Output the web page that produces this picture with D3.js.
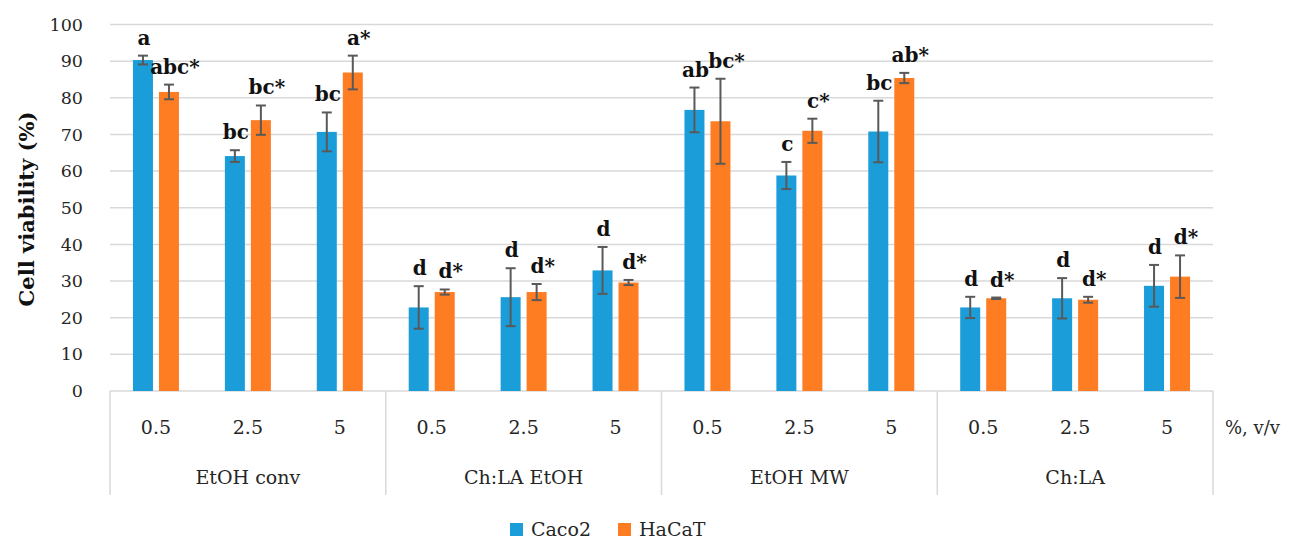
<!DOCTYPE html>
<html lang="en">
  <head>
    <meta charset="utf-8">
    <title>Cell viability</title>
    <style>
      body { margin: 0; background: #fff; }
      svg text { font-family: "DejaVu Serif", serif; fill: #262626; }
      .grid line { stroke: #d9d9d9; stroke-width: 1.5px; }
      .sep line { stroke: #d9d9d9; stroke-width: 1.5px; }
      .err line { stroke: #595959; stroke-width: 2px; }
      .lbl { font-weight: bold; font-size: 20px; fill: #111; }
    </style>
  </head>
  <body>
<svg id="chart" width="1293" height="541"></svg>
<script src="https://d3js.org/d3.v7.min.js"></script>
<script>

var groups = ["EtOH conv", "Ch:LA EtOH", "EtOH MW", "Ch:LA"];
var doses = ["0.5", "2.5", "5"];
var series = ["Caco2", "HaCaT"];
var colors = ["#1b9dd9", "#fe7d22"];
var yTicks = [0, 10, 20, 30, 40, 50, 60, 70, 80, 90, 100];

// values per group, per dose
var caco2 = [[90.3, 64.1, 70.7], [22.8, 25.6, 32.9], [76.7, 58.8, 70.8], [22.8, 25.3, 28.7]];
var caco2Err = [[1.2, 1.6, 5.3], [5.8, 7.9, 6.4], [6.1, 3.7, 8.4], [2.9, 5.5, 5.7]];
var hacat = [[81.6, 73.9, 86.9], [27.0, 27.0, 29.6], [73.6, 71.0, 85.4], [25.3, 24.9, 31.2]];
var hacatErr = [[2.0, 4.0, 4.6], [0.7, 2.2, 0.7], [11.6, 3.3, 1.4], [0.2, 0.8, 5.8]];
var caco2Lbl = [["a", "bc", "bc"], ["d", "d", "d"], ["ab", "c", "bc"], ["d", "d", "d"]];
var hacatLbl = [["abc*", "bc*", "a*"], ["d*", "d*", "d*"], ["bc*", "c*", "ab*"], ["d*", "d*", "d*"]];

var svg = d3.select("#chart");
var plotLeft = 110, plotRight = 1213, plotTop = 24.5, plotBottom = 391;

var y = d3.scaleLinear().domain([0, 100]).range([plotBottom, plotTop]);
var x0 = d3.scaleBand().domain(groups).range([plotLeft, plotRight]);
var x1 = d3.scaleBand().domain(doses).range([0, x0.bandwidth()]);
var x2 = d3.scaleBand().domain(series).range([0, x1.bandwidth()])
    .paddingInner(6 / 26).paddingOuter((x1.bandwidth() / 26 - 2 + 6 / 26) / 2);

var data = [];
groups.forEach(function (g, gi) {
  doses.forEach(function (d, di) {
    data.push({group: g, dose: d, s: 0, v: caco2[gi][di], e: caco2Err[gi][di], t: caco2Lbl[gi][di]});
    data.push({group: g, dose: d, s: 1, v: hacat[gi][di], e: hacatErr[gi][di], t: hacatLbl[gi][di]});
  });
});

// gridlines
svg.append("g").attr("class", "grid")
  .selectAll("line").data(yTicks).enter().append("line")
  .attr("x1", plotLeft).attr("x2", plotRight)
  .attr("y1", function (d) { return y(d); })
  .attr("y2", function (d) { return y(d); });

// y axis labels
var yAxis = svg.append("g").attr("transform", "translate(" + (plotLeft - 27) + ",0)")
  .call(d3.axisLeft(y).tickValues(yTicks).tickSize(0).tickPadding(0));
yAxis.select(".domain").remove();
yAxis.selectAll("text").style("font-size", "17.5px").attr("fill", "#262626")
  .style("font-family", "DejaVu Serif");

svg.append("text")
  .attr("transform", "translate(34,209) rotate(-90)")
  .attr("text-anchor", "middle")
  .style("font-weight", "bold").style("font-size", "21px").style("fill", "#111")
  .text("Cell viability (%)");

// category separators
var sepX = groups.map(function (g) { return x0(g); }).concat([plotRight]);
svg.append("g").attr("class", "sep")
  .selectAll("line").data(sepX).enter().append("line")
  .attr("x1", function (d) { return d; }).attr("x2", function (d) { return d; })
  .attr("y1", plotBottom).attr("y2", 495);

// bars
svg.append("g").selectAll("rect").data(data).enter().append("rect")
  .attr("x", function (d) { return x0(d.group) + x1(d.dose) + x2(series[d.s]); })
  .attr("width", x2.bandwidth())
  .attr("y", function (d) { return y(d.v); })
  .attr("height", function (d) { return plotBottom - y(d.v); })
  .attr("fill", function (d) { return colors[d.s]; });

// error bars
var cx = function (d) { return x0(d.group) + x1(d.dose) + x2(series[d.s]) + x2.bandwidth() / 2; };
var eg = svg.append("g").attr("class", "err").selectAll("g").data(data).enter().append("g");
eg.append("line").attr("x1", cx).attr("x2", cx)
  .attr("y1", function (d) { return y(d.v + d.e); })
  .attr("y2", function (d) { return y(d.v - d.e); });
eg.append("line").attr("x1", function (d) { return cx(d) - 5; }).attr("x2", function (d) { return cx(d) + 5; })
  .attr("y1", function (d) { return y(d.v + d.e); }).attr("y2", function (d) { return y(d.v + d.e); });
eg.append("line").attr("x1", function (d) { return cx(d) - 5; }).attr("x2", function (d) { return cx(d) + 5; })
  .attr("y1", function (d) { return y(d.v - d.e); }).attr("y2", function (d) { return y(d.v - d.e); });

// significance letters
svg.append("g").selectAll("text").data(data).enter().append("text")
  .attr("class", "lbl")
  .attr("text-anchor", "middle")
  .attr("x", function (d) { return cx(d) + (d.s ? 6 : 1); })
  .attr("y", function (d) { return y(d.v + d.e) - 11; })
  .text(function (d) { return d.t; });

// dose labels
svg.append("g").selectAll("text").data(data.filter(function (d) { return d.s === 0; })).enter().append("text")
  .attr("text-anchor", "middle").style("font-size", "19px")
  .attr("x", function (d) { return x0(d.group) + x1(d.dose) + x1.bandwidth() / 2; })
  .attr("y", 434)
  .text(function (d) { return d.dose; });

// group labels
svg.append("g").selectAll("text").data(groups).enter().append("text")
  .attr("text-anchor", "middle").style("font-size", "19px")
  .attr("x", function (d) { return x0(d) + x0.bandwidth() / 2; })
  .attr("y", 484)
  .text(function (d) { return d; });

svg.append("text").attr("x", 1225).attr("y", 434).style("font-size", "18px").text("%, v/v");

// legend
var legX = [510, 618];
var leg = svg.append("g").selectAll("g").data(series).enter().append("g")
  .attr("transform", function (d, i) { return "translate(" + legX[i] + ",523)"; });
leg.append("rect").attr("width", 13).attr("height", 13).attr("fill", function (d, i) { return colors[i]; });
leg.append("text").attr("x", 21).attr("y", 13).style("font-size", "19px").text(function (d) { return d; });

</script>
  </body>
</html>
